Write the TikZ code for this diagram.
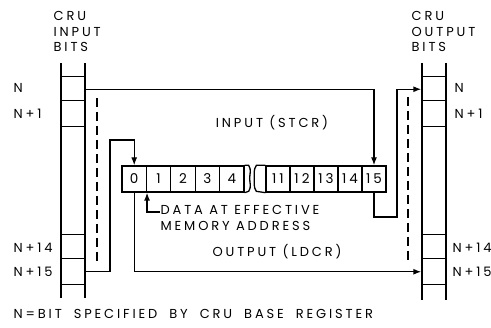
\documentclass[tikz,border=0pt]{standalone}
\usepackage{fontspec}
\setmainfont{Poppins}[LetterSpace=22]
\usetikzlibrary{arrows.meta, positioning, calc}

\begin{document}
\begin{tikzpicture}[x=1pt, y=-1pt, line width=1.3pt,
    lbl/.style={font=\fontsize{13}{15.5}\selectfont, inner sep=0pt},
    colcell/.style={minimum width=24pt, minimum height=24.5pt, inner sep=0pt},
    regcell/.style={draw, minimum width=24.4pt, minimum height=26pt, inner sep=0pt,
                    font=\fontsize{13.5}{14}\selectfont},
    arr/.style={-{Latex[length=8pt, width=6pt]}},
    guide/.style={dashed, dash pattern=on 9pt off 5pt, line width=1.1pt}
]
    \useasboundingbox (0,0) rectangle (491,328);

    % CRU bit columns
    \draw (61,63) -- (61,298);
    \draw (85,63) -- (85,298);
    \draw (422,63) -- (422,300);
    \draw (446,63) -- (446,300);
    \node[colcell] (inN)    at (73,89.25) {};
    \node[colcell] (inN1)   at (73,113.75) {};
    \node[colcell] (inN14)  at (73,247.25) {};
    \node[colcell] (inN15)  at (73,271.75) {};
    \node[colcell] (outN)   at (434,89.25) {};
    \node[colcell] (outN1)  at (434,113.75) {};
    \node[colcell] (outN14) at (434,247.25) {};
    \node[colcell] (outN15) at (434,271.75) {};
    \foreach \c in {inN,inN1,inN14,inN15,outN,outN1,outN14,outN15}
        \draw (\c.north west) -- (\c.north east);
    \foreach \c in {inN1,inN15,outN1,outN15}
        \draw (\c.south west) -- (\c.south east);

    % column headings and bit names
    \node[lbl, anchor=north west, align=left] (inhead) at (53,11) {CRU\\INPUT\\BITS};
    \node[lbl, anchor=north west, align=left] (outhead) at (411,11) {CRU\\OUTPUT\\BITS};
    \node[lbl, anchor=west] (lN)   at (13,88) {N};
    \node[lbl, anchor=west] (lN1)  at (13,114) {N+1};
    \node[lbl, anchor=west] (lN14) at (13,248) {N+14};
    \node[lbl, anchor=west] (lN15) at (13,272) {N+15};
    \node[lbl, anchor=west] (rN)   at (454,88) {N};
    \node[lbl, anchor=west] (rN1)  at (454,114) {N+1};
    \node[lbl, anchor=west] (rN14) at (452,248) {N+14};
    \node[lbl, anchor=west] (rN15) at (452,272) {N+15};

    % memory word, bits 0-4 and 11-15
    \foreach \b in {0,...,4}
        \node[regcell] (r\b) at ({134.2+24.4*\b},179) {\b};
    \foreach \b [count=\i from 0] in {11,...,15}
        \node[regcell, minimum width=24pt] (r\b) at ({278+24*\i},179) {\b};
    \draw (r4.north east) -- ++(4,0) .. controls ++(3,4) and ++(0,-4) .. ++(1,13)
          .. controls ++(0,4) and ++(3,-4) .. ++(-1,13) -- (r4.south east);
    \draw (r11.north west) -- ++(-9,0) .. controls ++(-3,4) and ++(0,-4) .. ++(-2,13)
          .. controls ++(0,4) and ++(-3,-4) .. ++(2,13) -- (r11.south west);

    % dashed guides
    \draw[guide] (97,98) -- (97,262);
    \draw[guide] (408,97) -- (408,262);

    % input transfer
    \coordinate (stcrturn) at (397,217);
    \draw[arr] (inN.east) -| (r15.north);
    \draw[arr] (r15.south) |- (stcrturn) |- (outN.west);
    \node[lbl] (stcr) at (272,123) {INPUT (STCR)};

    % output transfer
    \coordinate (ldcrup) at (110,140);
    \draw[arr] (inN15.east) -| (ldcrup) -| (r0.north);
    \draw[arr] (r0.south) |- (outN15.west);
    \node[lbl] (ldcr) at (277,252) {OUTPUT (LDCR)};

    % effective address pointer
    \node[lbl, anchor=north west, align=left] (ealabel) at (160,205) {DATA AT EFFECTIVE\\MEMORY ADDRESS};
    \coordinate (eabend) at (r0.south east |- 0,212);
    \draw[arr] (ealabel.west |- eabend) -- (eabend) -- (r0.south east);

    \node[lbl, anchor=west] (note) at (13,314) {\spaceskip=12pt\relax N=BIT SPECIFIED BY CRU BASE REGISTER};
\end{tikzpicture}
\end{document}
